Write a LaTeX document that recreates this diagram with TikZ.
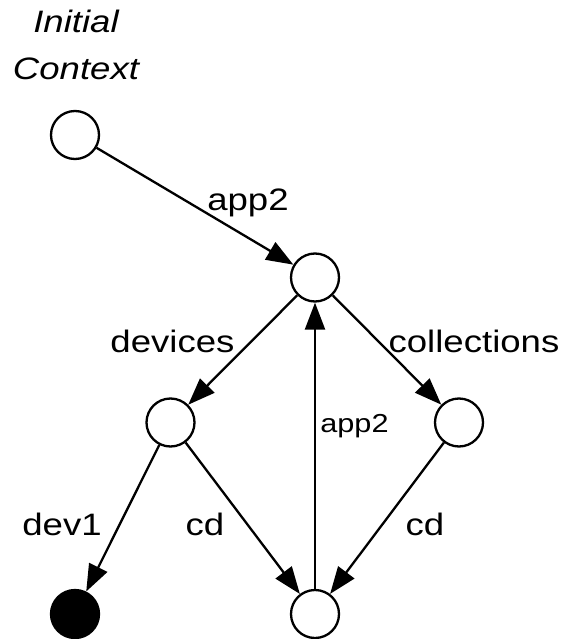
\documentclass[tikz,border=0pt]{standalone}
\usepackage{fontspec}
\setmainfont{Liberation Sans}[FakeStretch=1.18]
\usetikzlibrary{arrows.meta}

\begin{document}
\begin{tikzpicture}[
  x=1pt, y=-1pt,
  every node/.style={font=\fontsize{31}{47}\selectfont},
  st/.style  ={draw, circle, line width=2.3pt, minimum size=48pt, inner sep=0pt},
  fin/.style ={st, fill=black},
  lbl/.style ={anchor=base, inner sep=0pt},
  lbls/.style={lbl, font=\fontsize{26}{30}\selectfont},
  arr/.style ={-{Triangle[length=27pt,width=20pt]}, line width=2.3pt}]

\useasboundingbox (0,0) rectangle (566,639);

\node[st]  (init)  at (75,135)    {};
\node[st]  (app)   at (315,277.5) {};
\node[st]  (devs)  at (170.5,422.5) {};
\node[st]  (colls) at (459,422.5) {};
\node[fin] (dev)   at (75,614)    {};
\node[st]  (cd)    at (315,614)   {};

% last line sits on the given baseline
\node[lbl, align=center, font=\fontsize{31}{47}\itshape] (ctx) at (76,80) {Initial\\Context};

\node[lbl]  (lapp)   at (248,210)   {app2};
\node[lbl]  (ldevs)  at (172.5,352) {devices};
\node[lbl]  (lcolls) at (474,352)   {collections};
\node[lbls] (lback)  at (354.5,432) {app2};
\node[lbl]  (ldev)   at (62,535)    {dev1};
\node[lbl]  (lcd1)   at (205,535)   {cd};
\node[lbl]  (lcd2)   at (425,535)   {cd};

\draw[arr] (init)  -- (app);
\draw[arr] (app)   -- (devs);
\draw[arr] (app)   -- (colls);
\draw[arr] (devs)  -- (dev);
\draw[arr] (devs)  -- (cd);
\draw[arr] (colls) -- (cd);
\draw[arr] (cd)    -- (app);
\end{tikzpicture}
\end{document}
